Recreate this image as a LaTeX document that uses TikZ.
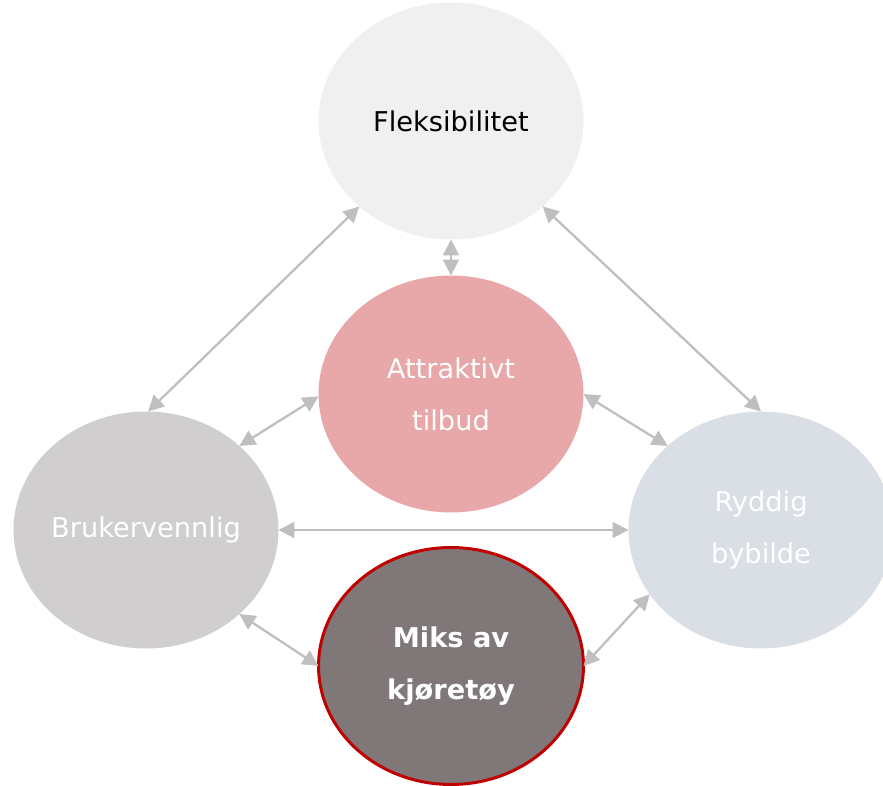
\documentclass[tikz,border=0pt]{standalone}
\usepackage{fontspec}
\setmainfont{DejaVu Sans}
\usepackage{tikz}
\usetikzlibrary{shapes,arrows.meta,positioning}
\usepackage{xcolor}

\definecolor{flexgray}{HTML}{F0F0F0}
\definecolor{attrpink}{HTML}{E8A7A8}
\definecolor{brukgray}{HTML}{D0CECE}
\definecolor{ryddblue}{HTML}{DADFE5}
\definecolor{miksgray}{HTML}{807878}
\definecolor{miksred}{HTML}{C00000}
\definecolor{linkgray}{HTML}{BFBFBF}

\tikzset{
    bubble/.style={ellipse, minimum width=5.3cm, minimum height=4.74cm, outer sep=0pt, align=center,
        font=\fontsize{15.5}{29.5}\selectfont},
    link/.style={{Triangle[length=9pt,width=9pt]}-{Triangle[length=9pt,width=9pt]}, line width=1.3pt, draw=linkgray, fill=linkgray}
}

\begin{document}
\begin{tikzpicture}[x=0.02cm, y=-0.02cm]
    \clip (0,0) rectangle (883,785);

    \node[bubble, fill=flexgray, text=black] (flex) at (451,121) {Fleksibilitet};
    
    \node[bubble, fill=attrpink, text=white] (attr) at (451,394) {Attraktivt\\tilbud};
    
    \node[bubble, fill=brukgray, text=white] (bruker) at (146,530) {\makebox[0pt]{Brukervennlig}};
    
    \node[bubble, fill=ryddblue, text=white] (rydd) at (761,530) {Ryddig\\bybilde};
    
    \node[bubble, fill=miksgray, draw=miksred, line width=1.7pt, text=white, font=\fontsize{15.5}{29.5}\selectfont\bfseries] (miks) at (451,666) {Miks av\\kjøretøy};
    
    \draw[link] (flex.223) -- (bruker.89);
    \draw[link] (flex.317) -- (rydd.north);
    \draw[link] (flex.south) -- (attr.north);
    \draw[link] (attr.181) -- (bruker.42);
    \draw[link] (attr.east) -- (rydd.138);
    \draw[link] (bruker.east) -- (rydd.west);
    \draw[link] (bruker.-42) -- (miks.west);
    \draw[link] (miks.east) -- (rydd.210);
\end{tikzpicture}
\end{document}
